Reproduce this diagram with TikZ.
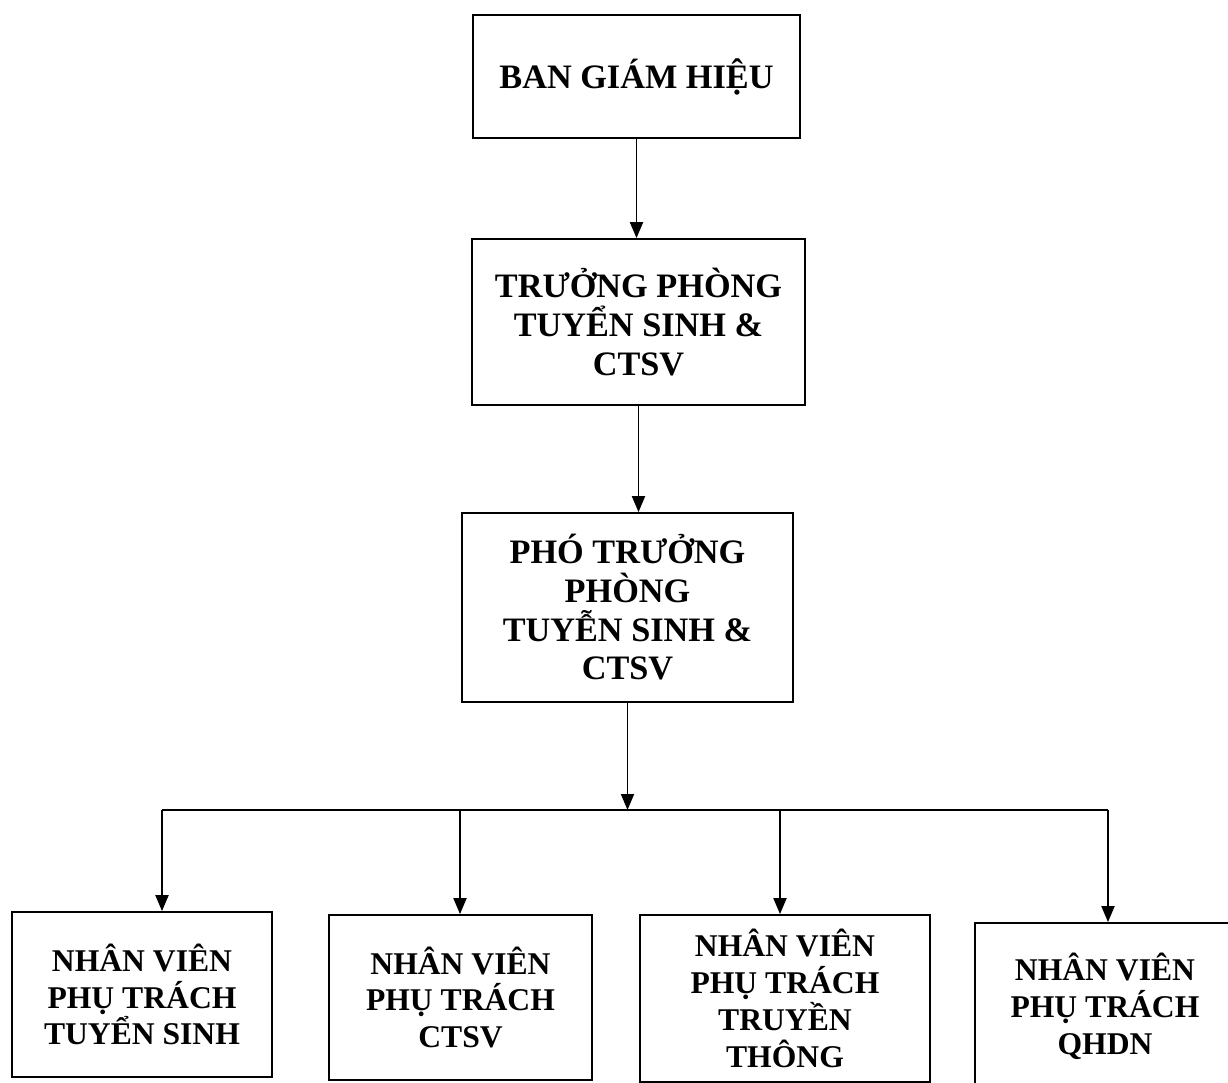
\documentclass[tikz,border=0pt]{standalone}
\usepackage{fontspec}
\setmainfont{Liberation Serif}
\usetikzlibrary{arrows.meta}
\tikzset{
  box/.style={draw, line width=1pt, align=center, inner sep=0pt,
    font=\fontsize{19.5}{22}\selectfont\bfseries},
  leaf/.style={box, font=\fontsize{18}{21}\selectfont\bfseries},
  arr/.style={line width=1.1pt, -{Triangle[length=0.32cm,width=0.26cm]}},
  bus/.style={line width=1.1pt},
}
\begin{document}
\begin{tikzpicture}
%
\useasboundingbox (0,0) rectangle (24.56cm,-21.66cm);
%
\node[box, minimum width=6.54cm, minimum height=2.46cm] (n0) at (12.73,-1.53) {BAN GIÁM HIỆU};
\node[box, minimum width=6.66cm, minimum height=3.32cm] (n1) at (12.77,-6.44) {TRƯỞNG PHÒNG\\TUYỂN SINH \&\\CTSV};
\node[box, minimum width=6.62cm, minimum height=3.78cm] (n2) at (12.55,-12.15) {PHÓ TRƯỞNG\\PHÒNG\\TUYỄN SINH \&\\CTSV};
%
\node[leaf, minimum width=5.20cm, minimum height=3.30cm] (n3) at (2.84,-19.89) {NHÂN VIÊN\\PHỤ TRÁCH\\TUYỂN SINH};
\node[leaf, minimum width=5.26cm, minimum height=3.30cm] (n4) at (9.21,-19.95) {NHÂN VIÊN\\PHỤ TRÁCH\\CTSV};
\node[leaf, minimum width=5.80cm, minimum height=3.34cm] (n5) at (15.70,-19.97) {NHÂN VIÊN\\PHỤ TRÁCH\\TRUYỀN\\THÔNG};
\node[leaf, minimum width=5.20cm, minimum height=3.34cm] (n6) at (22.10,-20.13) {NHÂN VIÊN\\PHỤ TRÁCH\\QHDN};
%
\coordinate (j) at (12.55,-16.2);
\coordinate (j3) at (3.24,-16.2);
\coordinate (j4) at (9.20,-16.2);
\coordinate (j5) at (15.60,-16.2);
\coordinate (j6) at (22.16,-16.2);
%
\draw[arr] (n0.south) -- (n0.south |- n1.north);
\draw[arr] (n1.south) -- (n1.south |- n2.north);
\draw[arr] (n2.south) -- (j);
\draw[bus] (j3) -- (j6);
\draw[arr] (j3) -- (j3 |- n3.north);
\draw[arr] (j4) -- (j4 |- n4.north);
\draw[arr] (j5) -- (j5 |- n5.north);
\draw[arr] (j6) -- (j6 |- n6.north);
%
\end{tikzpicture}
\end{document}
